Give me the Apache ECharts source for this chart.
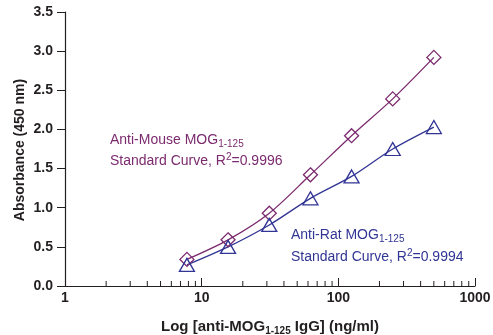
<!DOCTYPE html>
<html>
<head>
<meta charset="utf-8">
<script src="https://cdn.jsdelivr.net/npm/echarts@6/dist/echarts.min.js"></script>
<style>
  html, body { margin: 0; padding: 0; background: #fff; }
  #chart { width: 493px; height: 335px; }
</style>
</head>
<body>
<div id="chart"></div>
<script>
// concentrations (ng/ml)
var conc = [7.8, 15.6, 31.25, 62.5, 125, 250, 500];
var mouseAbs = [0.34, 0.59, 0.93, 1.42, 1.92, 2.39, 2.92];
var ratAbs = [0.27, 0.50, 0.78, 1.12, 1.40, 1.75, 2.03];
var minorTicks = [2, 3, 4, 5, 6, 7, 8, 9, 20, 30, 40, 50, 60, 70, 80, 90, 200, 300, 400, 500, 600, 700, 800, 900];

var purple = '#7b2a6e';
var blue = '#313594';
var axisCol = '#231f20';

function pairs(xs, ys) {
  return xs.map(function (x, i) { return [x, ys[i]]; });
}

var chart = echarts.init(document.getElementById('chart'));
var option = {
  animation: false,
  textStyle: { fontFamily: 'Liberation Sans, Arial, sans-serif' },
  grid: { left: 65, right: 18, top: 12, bottom: 49, outerBoundsMode: 'none', containLabel: false },
  xAxis: {
    type: 'log',
    logBase: 10,
    min: 1,
    max: 1000,
    axisLine: { lineStyle: { color: axisCol, width: 1.2 } },
    axisTick: { inside: true, length: 8, lineStyle: { color: axisCol } },
    splitLine: { show: false },
    axisLabel: {
      color: axisCol, fontWeight: 'bold', fontSize: 14, margin: 5,
      formatter: function (v) { return String(Math.round(v)); }
    },
    name: 'Log [anti-MOG{sub|1-125} IgG] (ng/ml)',
    nameLocation: 'middle',
    nameGap: 32,
    nameTextStyle: {
      color: axisCol, fontWeight: 'bold', fontSize: 15,
      rich: { sub: { fontSize: 10, fontWeight: 'bold', color: axisCol, padding: [8, 0, 0, 0] } }
    }
  },
  yAxis: {
    type: 'value',
    min: 0,
    max: 3.5,
    interval: 0.5,
    axisLine: { show: true, lineStyle: { color: axisCol, width: 1.2 } },
    axisTick: { show: true, length: 8, lineStyle: { color: axisCol } },
    splitLine: { show: false },
    axisLabel: {
      color: axisCol, fontWeight: 'bold', fontSize: 14, margin: 12,
      formatter: function (v) { return v.toFixed(1); }
    }
  },
  graphic: [
    {
      type: 'text', x: 20, y: 150, rotation: Math.PI / 2,
      style: { text: 'Absorbance (450 nm)', fill: axisCol, font: 'bold 14px Liberation Sans, Arial, sans-serif', align: 'center', verticalAlign: 'middle' }
    },
    {
      type: 'text', x: 110, y: 130,
      style: {
        text: 'Anti-Mouse MOG{sub|1-125}\nStandard Curve, R{sup|2}=0.9996',
        fill: purple, fontSize: 14, fontFamily: 'Liberation Sans, Arial, sans-serif', lineHeight: 21,
        rich: {
          sub: { fontSize: 10, fill: purple, padding: [8, 0, 0, 0] },
          sup: { fontSize: 10, fill: purple, padding: [0, 0, 8, 0] }
        }
      }
    },
    {
      type: 'text', x: 291, y: 224,
      style: {
        text: 'Anti-Rat MOG{sub|1-125}\nStandard Curve, R{sup|2}=0.9994',
        fill: blue, fontSize: 14, fontFamily: 'Liberation Sans, Arial, sans-serif', lineHeight: 22,
        rich: {
          sub: { fontSize: 10, fill: blue, padding: [8, 0, 0, 0] },
          sup: { fontSize: 10, fill: blue, padding: [0, 0, 8, 0] }
        }
      }
    }
  ],
  series: [
    {
      name: 'minor',
      type: 'custom',
      silent: true,
      clip: false,
      data: minorTicks.map(function (v) { return [v, 0]; }),
      renderItem: function (params, api) {
        var p = api.coord([api.value(0), 0]);
        return {
          type: 'line',
          shape: { x1: p[0], y1: p[1], x2: p[0], y2: p[1] - 5 },
          style: { stroke: axisCol, lineWidth: 1 }
        };
      },
      z: 1
    },
    {
      name: 'Anti-Mouse',
      type: 'line',
      data: pairs(conc, mouseAbs),
      smooth: 0.3,
      symbol: 'diamond',
      symbolSize: [14, 14],
      lineStyle: { color: purple, width: 1.3 },
      itemStyle: { color: 'rgba(255,255,255,0)', borderColor: purple, borderWidth: 1.3 }
    },
    {
      name: 'Anti-Rat',
      type: 'line',
      data: pairs(conc, ratAbs),
      smooth: 0.3,
      symbol: 'triangle',
      symbolSize: [15, 13],
      lineStyle: { color: blue, width: 1.3 },
      itemStyle: { color: 'rgba(255,255,255,0)', borderColor: blue, borderWidth: 1.3 }
    }
  ]
};
chart.setOption(option);
</script>
</body>
</html>
